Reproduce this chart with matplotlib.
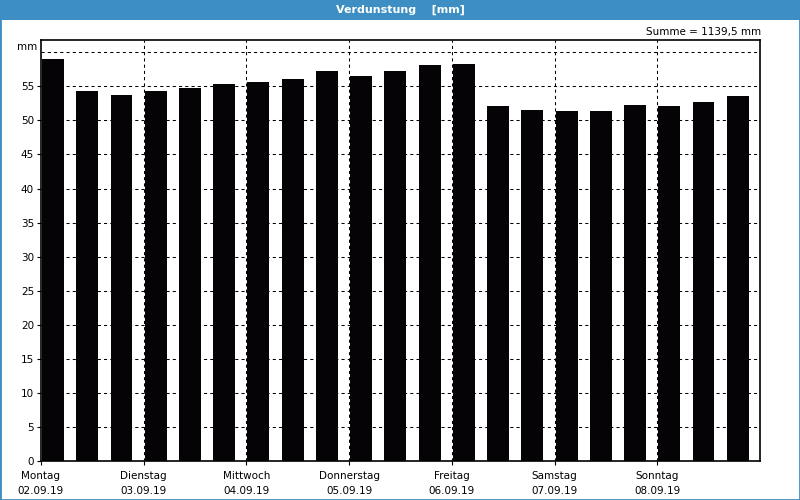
import matplotlib
matplotlib.use("Agg")
import matplotlib.pyplot as plt
from matplotlib.patches import Rectangle

days = ["Montag", "Dienstag", "Mittwoch", "Donnerstag", "Freitag", "Samstag", "Sonntag"]
dates = ["02.09.19", "03.09.19", "04.09.19", "05.09.19", "06.09.19", "07.09.19", "08.09.19"]
values = [59.0, 54.3, 53.7, 54.3, 54.7, 55.3, 55.6, 56.1, 57.2, 56.5, 57.2, 58.1, 58.3,
          52.1, 51.5, 51.4, 51.4, 52.2, 52.1, 52.7, 53.6]
yticks = [0, 5, 10, 15, 20, 25, 30, 35, 40, 45, 50, 55]
title = "Verdunstung    [mm]"
summe = "Summe = 1139,5 mm"

BLUE = "#3c8ec3"
plt.rcParams["font.family"] = ["DejaVu Sans"]

fig = plt.figure(figsize=(8, 5), dpi=100, facecolor="white")
# frame and title bar
fig.patches.append(Rectangle((0, 0), 1, 1, transform=fig.transFigure, fill=False,
                             edgecolor=BLUE, linewidth=2.0, zorder=0))
fig.patches.append(Rectangle((0, 1 - 20 / 500), 1, 20 / 500, transform=fig.transFigure,
                             facecolor=BLUE, edgecolor="none", zorder=1))
fig.text(0.5, 1 - 10 / 500, title, color="white", fontsize=8, fontweight="bold",
         ha="center", va="center")

ax = fig.add_axes([41 / 800, 1 - 461 / 500, 719 / 800, 421 / 500])
ax.set_facecolor("white")
n = len(values)
x = [i + 0.03 for i in range(n)]
ax.bar(x, values, width=0.64, align="edge", color="#050306", zorder=2)
ax.set_xlim(0, n)
ax.set_ylim(0, 61.8)

# grid
dash = (0, (3.0, 3.0))
for yv in yticks[1:] + [60]:
    ax.axhline(yv, color="black", linestyle=dash, linewidth=0.75, zorder=1)
for k in range(1, len(days)):
    ax.axvline(3 * k, color="black", linestyle=dash, linewidth=0.75, zorder=1)

ax.set_yticks(yticks)
ax.set_yticklabels([str(v) for v in yticks], fontsize=7.5)
ax.set_xticks([3 * k for k in range(len(days))])
ax.set_xticklabels([f"{d}\n{dt}" for d, dt in zip(days, dates)], fontsize=7.5,
                   linespacing=1.6)
ax.tick_params(axis="y", length=3, width=0.8, pad=2)
ax.tick_params(axis="x", length=3, width=0.8, pad=4)
for s in ax.spines.values():
    s.set_linewidth(1.2)
    s.set_color("black")

fig.text(37 / 800, 1 - 47 / 500, "mm", fontsize=7.5, ha="right", va="center")
fig.text(761 / 800, 1 - 32 / 500, summe, fontsize=7.5, ha="right", va="center")

fig.savefig("out.png", dpi=100, facecolor="white")
